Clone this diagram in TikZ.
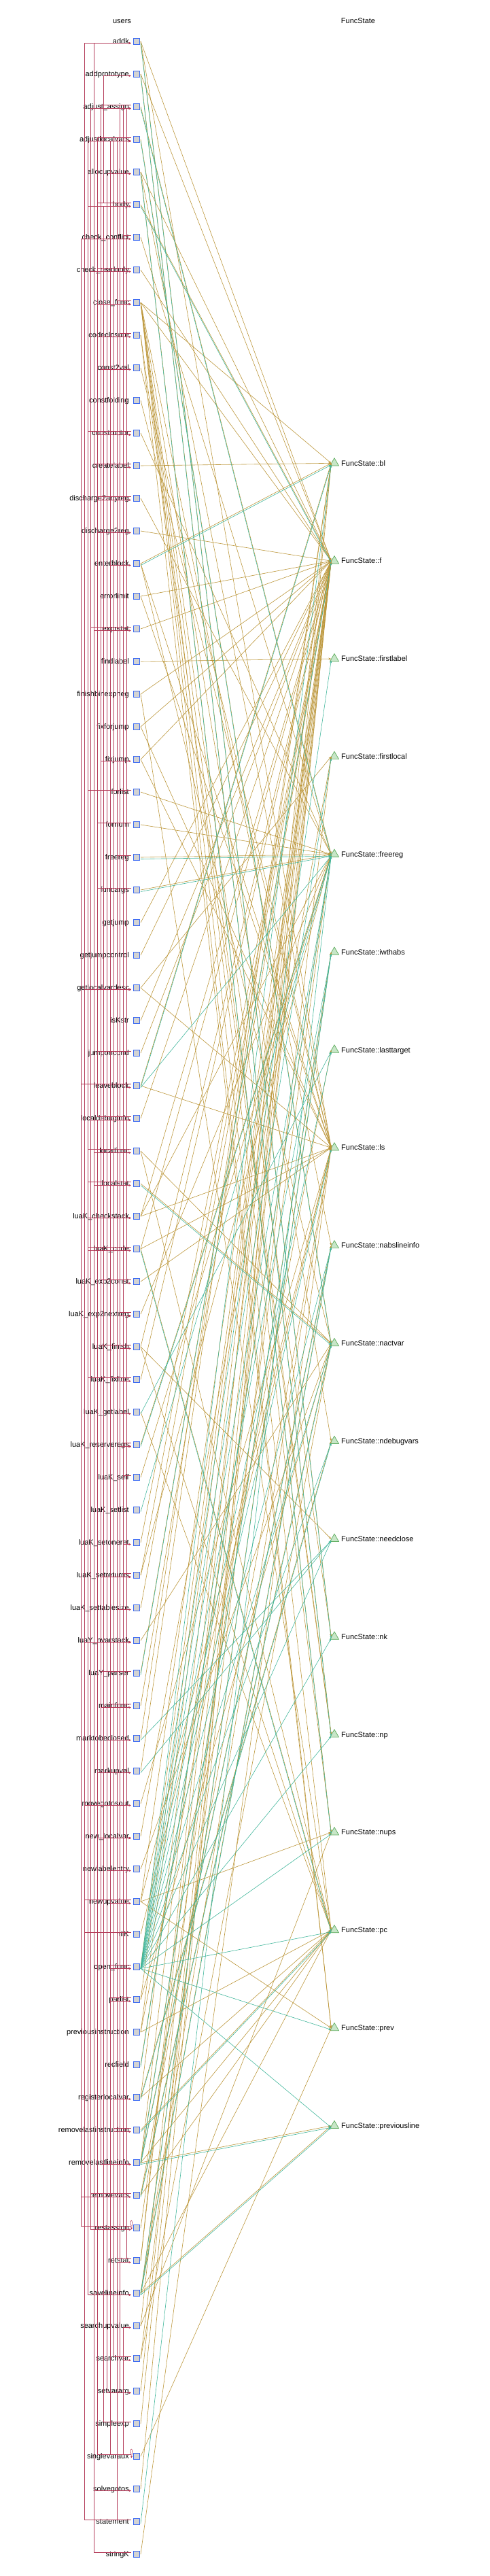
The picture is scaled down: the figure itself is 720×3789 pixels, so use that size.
\documentclass[tikz,border=0pt]{standalone}
\usepackage{fontspec}
\setmainfont{Liberation Sans}
\usetikzlibrary{arrows.meta,shapes.geometric}
\definecolor{callc}{HTML}{B43C5A}
\definecolor{rdc}{HTML}{BB9538}
\definecolor{wrc}{HTML}{3FB59A}
\definecolor{boxb}{HTML}{3D6BF2}
\definecolor{boxf}{HTML}{D3D3D3}
\definecolor{trib}{HTML}{5AAA5A}
\definecolor{trif}{HTML}{C8E6C8}
\newcommand\callE[3]{\draw[callarr] (o#1) -- (o#1 -| L#3) -- (i#2 -| L#3) -- (i#2);}
\begin{document}
\begin{tikzpicture}[x=1pt,y=-1pt,font=\fontsize{11}{13}\selectfont,
  lab/.style={anchor=base east,inner sep=0pt},
  flab/.style={anchor=base west,inner sep=0pt},
  hdr/.style={anchor=base,inner sep=0pt},
  ubox/.style={draw=boxb,fill=boxf,line width=0.8pt,minimum width=9pt,minimum height=8.5pt,inner sep=0pt},
  tri/.style={regular polygon,regular polygon sides=3,draw=trib,fill=trif,line width=0.7pt,minimum size=15pt,inner sep=0pt},
  call/.style={callc,line width=0.6pt},
  callarr/.style={call,-{Stealth[length=3.5pt,width=3pt]}},
  rd/.style={rdc,line width=0.6pt,-{Stealth[length=4pt,width=3pt]}},
  wr/.style={wrc,line width=0.6pt,-{Stealth[length=4pt,width=3pt]}}]
\useasboundingbox (0,0) rectangle (720,3789);
\node[hdr] (husers) at (179.5,35) {users};
\node[hdr] (hfs) at (527,35) {FuncState};
% lanes
\foreach \k in {0,...,14} \coordinate (L\k) at ({119.3+4.78*\k},0);
% users
\foreach \id/\lab [count=\n] in {addk/addk,addprototype/addprototype,adjustassign/adjust\_assign,adjustlocalvars/adjustlocalvars,allocupvalue/allocupvalue,body/body,checkconflict/check\_conflict,checkreadonly/check\_readonly,closefunc/close\_func,codeclosure/codeclosure,constval/const2val,constfolding/constfolding,constructor/constructor,createlabel/createlabel,dischanyreg/discharge2anyreg,dischreg/discharge2reg,enterblock/enterblock,errorlimit/errorlimit,exprstat/exprstat,findlabel/findlabel,finishbinexpneg/finishbinexpneg,fixforjump/fixforjump,fixjump/fixjump,forlist/forlist,fornum/fornum,freeregf/freereg,funcargs/funcargs,getjump/getjump,getjumpcontrol/getjumpcontrol,getlocalvardesc/getlocalvardesc,isKstr/isKstr,jumponcond/jumponcond,leaveblock/leaveblock,localdebuginfo/localdebuginfo,localfunc/localfunc,localstat/localstat,Kcheckstack/luaK\_checkstack,Kcode/luaK\_code,Kexpconst/luaK\_exp2const,Kexpnextreg/luaK\_exp2nextreg,Kfinish/luaK\_finish,Kfixline/luaK\_fixline,Kgetlabel/luaK\_getlabel,Kreserveregs/luaK\_reserveregs,Kself/luaK\_self,Ksetlist/luaK\_setlist,Ksetoneret/luaK\_setoneret,Ksetreturns/luaK\_setreturns,Ksettablesize/luaK\_settablesize,Ynvarstack/luaY\_nvarstack,Yparser/luaY\_parser,mainfunc/mainfunc,marktobeclosed/marktobeclosed,markupval/markupval,movegotosout/movegotosout,newlocalvar/new\_localvar,newlabelentry/newlabelentry,newupvalue/newupvalue,nilK/nilK,openfunc/open\_func,parlist/parlist,previousinstruction/previousinstruction,recfield/recfield,registerlocalvar/registerlocalvar,removelastinstruction/removelastinstruction,removelastlineinfo/removelastlineinfo,removevars/removevars,restassign/restassign,retstat/retstat,savelineinfo/savelineinfo,searchupvalue/searchupvalue,searchvar/searchvar,setvararg/setvararg,simpleexp/simpleexp,singlevaraux/singlevaraux,solvegotos/solvegotos,statement/statement,stringK/stringK}{
  \pgfmathsetmacro\yy{13+48*\n}
  \node[lab] (u\id) at (190,{\yy+3.7}) {\lab};
  \coordinate (o\id) at (193,{\yy-3});
  \coordinate (i\id) at (193,{\yy+2.5});
  \coordinate (s\id) at (207,{\yy});
}
% FuncState fields
\foreach \f [count=\n] in {bl,f,firstlabel,firstlocal,freereg,iwthabs,lasttarget,ls,nabslineinfo,nactvar,ndebugvars,needclose,nk,np,nups,pc,prev,previousline}{
  \pgfmathsetmacro\yy{681.3+143.85*(\n-1)}
  \node[tri] (t\f) at (492,\yy) {};
  \node[flab] (l\f) at (502,{\yy+3.7}) {FuncState::\f};
}
% read edges
\foreach \u/\f in {addk/f,addk/ls,addk/nk,addprototype/f,addprototype/np,adjustassign/freereg,adjustlocalvars/nactvar,allocupvalue/f,allocupvalue/nups,allocupvalue/ls,body/f,checkconflict/freereg,checkreadonly/f,closefunc/f,closefunc/bl,closefunc/pc,closefunc/nabslineinfo,closefunc/nk,closefunc/np,closefunc/ndebugvars,closefunc/nups,closefunc/prev,codeclosure/prev,codeclosure/np,constval/ls,constfolding/ls,constructor/freereg,createlabel/bl,dischanyreg/freereg,dischreg/f,enterblock/nactvar,enterblock/ls,enterblock/bl,errorlimit/ls,errorlimit/f,exprstat/f,findlabel/firstlabel,finishbinexpneg/f,finishbinexpneg/pc,fixforjump/f,fixforjump/ls,fixjump/f,fixjump/ls,forlist/freereg,fornum/freereg,freeregf/freereg,funcargs/freereg,getjump/f,getjumpcontrol/f,getlocalvardesc/ls,getlocalvardesc/firstlocal,isKstr/f,jumponcond/f,leaveblock/bl,leaveblock/ls,localdebuginfo/f,localfunc/nactvar,localfunc/pc,localstat/nactvar,Kcheckstack/freereg,Kcheckstack/f,Kcheckstack/ls,Kcode/f,Kcode/ls,Kcode/pc,Kexpconst/ls,Kexpnextreg/freereg,Kfinish/f,Kfinish/pc,Kfinish/needclose,Kfixline/f,Kgetlabel/pc,Kreserveregs/freereg,Kself/freereg,Ksetoneret/f,Ksetreturns/f,Ksetreturns/freereg,Ksettablesize/f,Ynvarstack/nactvar,Yparser/f,mainfunc/f,marktobeclosed/bl,markupval/bl,movegotosout/ls,newlocalvar/firstlocal,newlabelentry/nactvar,newupvalue/prev,newupvalue/f,newupvalue/ls,newupvalue/nups,nilK/ls,openfunc/f,parlist/f,parlist/nactvar,previousinstruction/pc,previousinstruction/lasttarget,previousinstruction/f,recfield/freereg,registerlocalvar/f,registerlocalvar/ndebugvars,registerlocalvar/pc,removelastinstruction/pc,removelastlineinfo/f,removelastlineinfo/pc,removelastlineinfo/previousline,removelastlineinfo/iwthabs,removelastlineinfo/nabslineinfo,removevars/ls,removevars/nactvar,removevars/pc,restassign/freereg,retstat/bl,retstat/f,savelineinfo/previousline,savelineinfo/pc,savelineinfo/iwthabs,savelineinfo/ls,savelineinfo/nabslineinfo,searchupvalue/f,searchupvalue/nups,searchvar/nactvar,searchvar/firstlocal,setvararg/f,simpleexp/f,singlevaraux/prev,solvegotos/bl,stringK/ls}
  \draw[rd] (s\u) -- (t\f.west);
% write edges
\foreach \u/\f in {addk/nk,addprototype/np,adjustassign/freereg,adjustlocalvars/nactvar,allocupvalue/nups,body/f,enterblock/bl,freeregf/freereg,funcargs/freereg,leaveblock/bl,leaveblock/freereg,localstat/nactvar,Kcode/pc,Kgetlabel/lasttarget,Kreserveregs/freereg,Ksetlist/freereg,Yparser/f,marktobeclosed/needclose,markupval/needclose,openfunc/prev,openfunc/ls,openfunc/pc,openfunc/previousline,openfunc/iwthabs,openfunc/lasttarget,openfunc/freereg,openfunc/nk,openfunc/nabslineinfo,openfunc/np,openfunc/nups,openfunc/ndebugvars,openfunc/nactvar,openfunc/needclose,openfunc/firstlocal,openfunc/firstlabel,openfunc/bl,recfield/freereg,registerlocalvar/ndebugvars,removelastinstruction/pc,removelastlineinfo/previousline,removelastlineinfo/iwthabs,removelastlineinfo/nabslineinfo,removevars/nactvar,savelineinfo/previousline,savelineinfo/iwthabs,savelineinfo/nabslineinfo,statement/freereg}
  \draw[wr] ([yshift=-2.5pt]s\u) -- ([yshift=-2.5pt]t\f.west);
% call edges
\callE{nilK}{addk}{1}
\callE{stringK}{addk}{4}
\callE{body}{addprototype}{7}
\callE{restassign}{adjustassign}{3}
\callE{adjustassign}{Ksetreturns}{6}
\callE{adjustassign}{Kexpnextreg}{12}
\callE{adjustassign}{Kreserveregs}{13}
\callE{localstat}{adjustassign}{14}
\callE{forlist}{adjustassign}{14}
\callE{parlist}{adjustlocalvars}{9}
\callE{adjustlocalvars}{registerlocalvar}{10}
\callE{adjustlocalvars}{Ynvarstack}{11}
\callE{adjustlocalvars}{getlocalvardesc}{5}
\callE{localstat}{adjustlocalvars}{2}
\callE{localfunc}{adjustlocalvars}{2}
\callE{fornum}{adjustlocalvars}{5}
\callE{forlist}{adjustlocalvars}{5}
\callE{body}{adjustlocalvars}{7}
\callE{newupvalue}{allocupvalue}{8}
\callE{mainfunc}{allocupvalue}{8}
\callE{simpleexp}{body}{7}
\callE{body}{openfunc}{9}
\callE{body}{parlist}{9}
\callE{body}{newlocalvar}{8}
\callE{body}{codeclosure}{5}
\callE{body}{closefunc}{5}
\callE{localfunc}{body}{2}
\callE{checkconflict}{Kreserveregs}{13}
\callE{restassign}{checkconflict}{0}
\callE{checkreadonly}{getlocalvardesc}{5}
\callE{restassign}{checkreadonly}{3}
\callE{closefunc}{Ynvarstack}{11}
\callE{closefunc}{leaveblock}{14}
\callE{closefunc}{Kfinish}{12}
\callE{mainfunc}{closefunc}{8}
\callE{codeclosure}{Kexpnextreg}{12}
\callE{Kexpconst}{constval}{6}
\callE{constructor}{Kcode}{2}
\callE{constructor}{Kreserveregs}{13}
\callE{constructor}{Ksettablesize}{11}
\callE{funcargs}{constructor}{5}
\callE{simpleexp}{constructor}{7}
\callE{createlabel}{newlabelentry}{8}
\callE{createlabel}{Kgetlabel}{12}
\callE{createlabel}{solvegotos}{4}
\callE{createlabel}{Ynvarstack}{11}
\callE{leaveblock}{createlabel}{14}
\callE{dischanyreg}{Kreserveregs}{13}
\callE{dischanyreg}{dischreg}{5}
\callE{jumponcond}{dischanyreg}{5}
\callE{openfunc}{enterblock}{9}
\callE{exprstat}{restassign}{3}
\callE{statement}{exprstat}{4}
\callE{Kfinish}{fixjump}{6}
\callE{forlist}{newlocalvar}{8}
\callE{forlist}{marktobeclosed}{8}
\callE{forlist}{Kcheckstack}{2}
\callE{fornum}{newlocalvar}{8}
\callE{freeregf}{Ynvarstack}{11}
\callE{funcargs}{Ksetreturns}{6}
\callE{funcargs}{Kexpnextreg}{12}
\callE{funcargs}{Kfixline}{12}
\callE{localdebuginfo}{getlocalvardesc}{5}
\callE{localstat}{getlocalvardesc}{14}
\callE{newupvalue}{getlocalvardesc}{1}
\callE{searchvar}{getlocalvardesc}{10}
\callE{jumponcond}{removelastinstruction}{10}
\callE{leaveblock}{removevars}{0}
\callE{leaveblock}{movegotosout}{1}
\callE{localfunc}{localdebuginfo}{5}
\callE{removevars}{localdebuginfo}{3}
\callE{localfunc}{newlocalvar}{5}
\callE{statement}{localfunc}{4}
\callE{localstat}{newlocalvar}{5}
\callE{localstat}{Kexpconst}{14}
\callE{statement}{localstat}{4}
\callE{Kreserveregs}{Kcheckstack}{13}
\callE{Kcode}{savelineinfo}{2}
\callE{Kexpnextreg}{Kreserveregs}{12}
\callE{retstat}{Kexpnextreg}{14}
\callE{Kfixline}{removelastlineinfo}{6}
\callE{Kfixline}{savelineinfo}{2}
\callE{Kself}{Kreserveregs}{13}
\callE{Ksetreturns}{Kreserveregs}{13}
\callE{parlist}{Kreserveregs}{12}
\callE{restassign}{Ksetoneret}{13}
\callE{retstat}{Ksetreturns}{11}
\callE{retstat}{Ynvarstack}{11}
\callE{statement}{Ynvarstack}{1}
\callE{Yparser}{mainfunc}{6}
\callE{mainfunc}{openfunc}{9}
\callE{mainfunc}{setvararg}{8}
\callE{singlevaraux}{markupval}{5}
\callE{parlist}{newlocalvar}{12}
\callE{singlevaraux}{newupvalue}{9}
\callE{parlist}{setvararg}{12}
\callE{removelastinstruction}{removelastlineinfo}{10}
\callE{statement}{retstat}{11}
\callE{singlevaraux}{searchupvalue}{13}
\callE{singlevaraux}{searchvar}{13}
% self loops
\draw[callarr] (orestassign) .. controls (190,3264) and (197,3262) .. (irestassign);
\draw[callarr] (osinglevaraux) .. controls (190,3600) and (197,3598) .. (isinglevaraux);
% boxes on top
\foreach \id [count=\n] in {addk,addprototype,adjustassign,adjustlocalvars,allocupvalue,body,checkconflict,checkreadonly,closefunc,codeclosure,constval,constfolding,constructor,createlabel,dischanyreg,dischreg,enterblock,errorlimit,exprstat,findlabel,finishbinexpneg,fixforjump,fixjump,forlist,fornum,freeregf,funcargs,getjump,getjumpcontrol,getlocalvardesc,isKstr,jumponcond,leaveblock,localdebuginfo,localfunc,localstat,Kcheckstack,Kcode,Kexpconst,Kexpnextreg,Kfinish,Kfixline,Kgetlabel,Kreserveregs,Kself,Ksetlist,Ksetoneret,Ksetreturns,Ksettablesize,Ynvarstack,Yparser,mainfunc,marktobeclosed,markupval,movegotosout,newlocalvar,newlabelentry,newupvalue,nilK,openfunc,parlist,previousinstruction,recfield,registerlocalvar,removelastinstruction,removelastlineinfo,removevars,restassign,retstat,savelineinfo,searchupvalue,searchvar,setvararg,simpleexp,singlevaraux,solvegotos,statement,stringK}{
  \node[ubox] (b\id) at (201,{13+48*\n}) {};
}
\end{tikzpicture}
\end{document}
